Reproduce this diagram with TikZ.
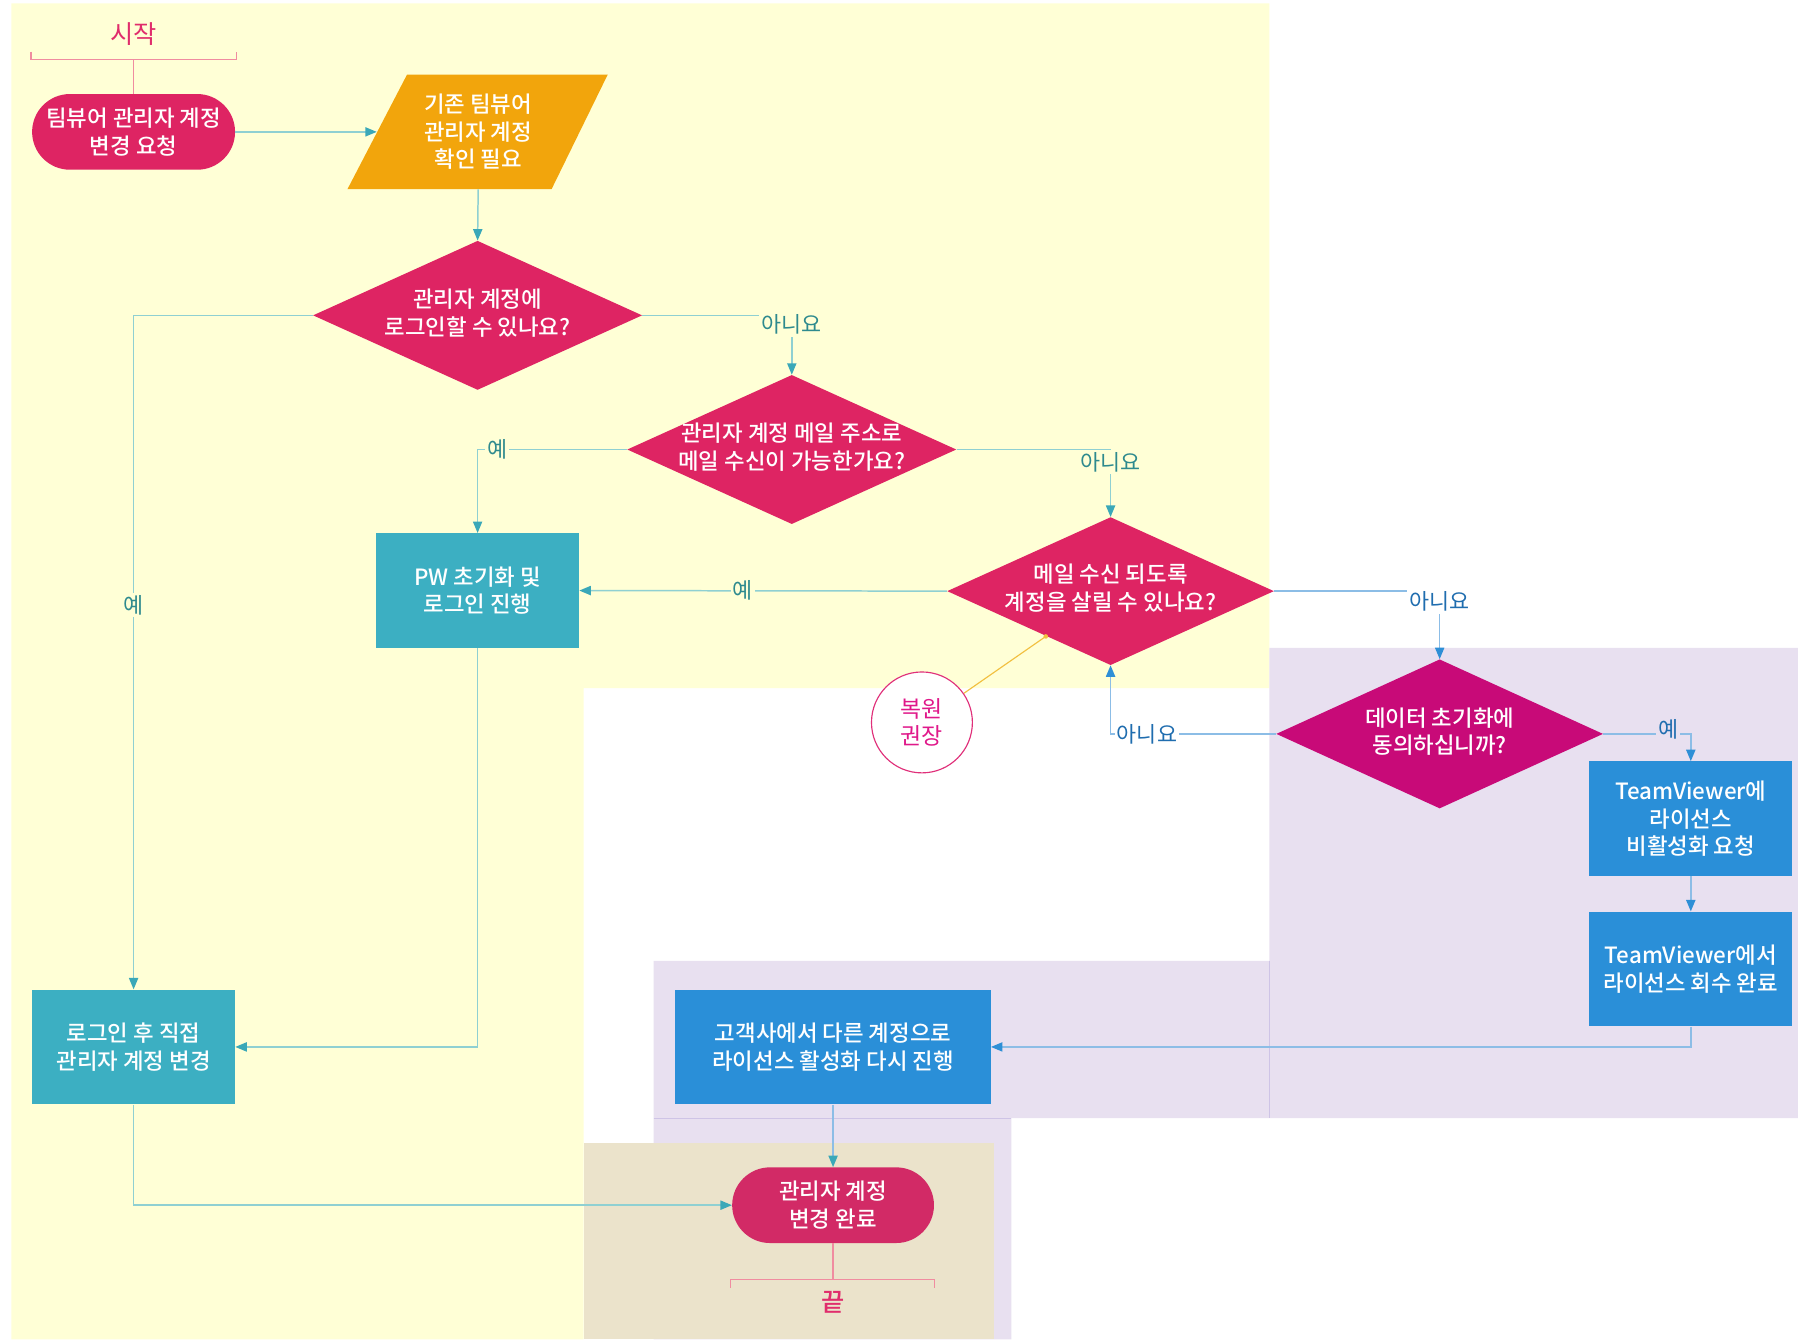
\documentclass[tikz,border=0pt]{standalone}
\usepackage{fontspec}
\setmainfont{Noto Sans CJK KR}
\newfontfamily\krmed{Noto Sans CJK KR Medium}
\usetikzlibrary{arrows.meta,shapes.geometric,calc}
\definecolor{cYellowBg}{HTML}{FFFFD6}
\definecolor{cPurpleBg}{HTML}{E8E0F0}
\definecolor{cBeigeBg}{HTML}{EBE3CB}
\definecolor{cPurpleEdge}{HTML}{CEC4E6}
\definecolor{cCrimson}{HTML}{DE2463}
\definecolor{cCrimsonEnd}{HTML}{D22A66}
\definecolor{cOrange}{HTML}{F2A50C}
\definecolor{cTealBox}{HTML}{3CAFC2}
\definecolor{cBlueBox}{HTML}{2A8FD8}
\definecolor{cMagenta}{HTML}{C80A78}
\definecolor{cTealLine}{HTML}{8FD0D2}
\definecolor{cTealArrow}{HTML}{3AA8B8}
\definecolor{cBlueLine}{HTML}{8CBDE6}
\definecolor{cBlueArrow}{HTML}{2E8FD6}
\definecolor{cTealTxt}{HTML}{2E8A8E}
\definecolor{cBlueTxt}{HTML}{1F6DAF}
\definecolor{cPinkLine}{HTML}{F08CA0}
\definecolor{cPinkTxt}{HTML}{E02D6C}
\definecolor{cRecTxt}{HTML}{E0188A}
\definecolor{cRecLine}{HTML}{E0307A}
\definecolor{cNoteLine}{HTML}{F2C040}
\newcommand\myNodeFont{\fontsize{19.5}{24}\selectfont\krmed}
\newcommand\myLabFont{\fontsize{19}{23}\selectfont}
\begin{document}
\begin{tikzpicture}[x=1pt,y=-1pt,
  nbox/.style={rectangle, minimum width=177pt, minimum height=100pt, inner sep=0pt, text=white, font=\myNodeFont, align=center},
  tealbox/.style={nbox, fill=cTealBox},
  bluebox/.style={nbox, fill=cBlueBox},
  stad/.style={rectangle, rounded corners=33pt, minimum width=177pt, minimum height=66pt, inner sep=0pt, text=white, font=\myNodeFont, align=center},
  dia/.style={diamond, inner sep=0pt, minimum width=287pt, minimum height=130pt},
  dtxt/.style={text=white, font=\myNodeFont, align=center, inner sep=0pt},
  tline/.style={draw=cTealLine, line width=1.3pt, -{Triangle[length=10pt,width=8pt,color=cTealArrow]}},
  bline/.style={draw=cBlueLine, line width=1.3pt, -{Triangle[length=10pt,width=8pt,color=cBlueArrow]}},
  lab/.style={inner sep=2pt, font=\myLabFont, text=cTealTxt, fill=cYellowBg},
  blab/.style={inner sep=2pt, font=\myLabFont, text=cBlueTxt},
  bracket/.style={draw=cPinkLine, line width=1.2pt},
]
\useasboundingbox (0,0) rectangle (1568,1168);
% lanes
\fill[white] (0,0) rectangle (1568,1168);
\fill[cYellowBg] (10,3) -- (1107,3) -- (1107,600) -- (509,600) -- (509,1168) -- (10,1168) -- cycle;
\fill[cPurpleBg] (1107,565) -- (1568,565) -- (1568,975) -- (882,975) -- (882,1168) -- (570,1168) -- (570,838) -- (1107,838) -- cycle;
\fill[cBeigeBg] (509,997) rectangle (867,1168);
\draw[cPurpleEdge, line width=0.8pt] (1107,838) -- (1107,975);
\draw[cPurpleEdge, line width=0.8pt] (570,975) -- (882,975);

% parallelogram body
\fill[cOrange] (355,65) -- (530,65) -- (481,165) -- (303,165) -- cycle;

% nodes
\node[stad, fill=cCrimson] (start) at (116.5,115) {팀뷰어 관리자 계정\\변경 요청};
\node[rectangle, minimum width=176.5pt, minimum height=100pt, inner sep=0pt, text=white, font=\myNodeFont, align=center] (para) at (417,115) {기존 팀뷰어\\관리자 계정\\확인 필요};

\node[dia, fill=cCrimson] (d1) at (416.5,275) {};
\node[dtxt] (d1t) at (416.5,273) {관리자 계정에\\로그인할 수 있나요?};
\node[dia, fill=cCrimson] (d2) at (690.5,392) {};
\node[dtxt] (d2t) at (690.5,390) {관리자 계정 메일 주소로\\메일 수신이 가능한가요?};
\node[dia, fill=cCrimson, minimum width=285pt, minimum height=129pt] (d3) at (968.5,515.5) {};
\node[dtxt] (d3t) at (968.5,513) {메일 수신 되도록\\계정을 살릴 수 있나요?};
\node[dia, fill=cMagenta, minimum width=285pt] (d4) at (1255.5,640) {};
\node[dtxt] (d4t) at (1255.5,638) {데이터 초기화에\\동의하십니까?};

\node[tealbox] (pw) at (416.5,515) {PW 초기화 및\\로그인 진행};
\node[tealbox] (login) at (116.5,913) {로그인 후 직접\\관리자 계정 변경};
\node[bluebox] (tv1) at (1474.5,714) {TeamViewer에\\라이선스\\비활성화 요청};
\node[bluebox] (tv2) at (1474.5,845) {TeamViewer에서\\라이선스 회수 완료};
\node[bluebox, minimum width=275pt] (cust) at (726.5,913) {고객사에서 다른 계정으로\\라이선스 활성화 다시 진행};
\node[stad, fill=cCrimsonEnd, minimum width=176pt] (endn) at (726.5,1051) {관리자 계정\\변경 완료};

% start / end brackets
\node[font=\fontsize{22}{24}\selectfont, text=cPinkTxt] (startlab) at (116.5,30) {시작};
\draw[bracket] (27,45) -- (27,52) -- (206,52) -- (206,45);
\coordinate (sbr) at (116.5,52);
\draw[bracket] (sbr) -- (start.north);
\coordinate (ebr) at (726.5,1116);
\draw[bracket] (endn.south) -- (ebr);
\draw[bracket] (637,1123) -- (637,1116) -- (815,1116) -- (815,1123);
\node[font=\fontsize{22}{24}\selectfont\krmed, text=cPinkTxt] (endlab) at (726.5,1136) {끝};

% connectors
\draw[tline] (start.east) -- (para.west);
\draw[tline] (para.south) -- (d1.north);
\draw[tline] (d1.west) -| node[lab, pos=0.715] {예} (login.north);
\draw[tline] (d1.east) -| node[lab, pos=0.5, yshift=-8pt] {아니요} (d2.north);
\draw[tline] (d2.west) -| node[lab, pos=0.435] {예} (pw.north);
\draw[tline] (d2.east) -| node[lab, pos=0.5, yshift=-11pt] {아니요} (d3.north);
\draw[tline] (d3.west) -- node[lab, pos=0.555] {예} (pw.east);
\draw[bline] (d3.east) -| node[blab, fill=white, pos=0.5, yshift=-9pt] {아니요} (d4.north);
\draw[bline] (d4.west) -| node[blab, fill=white, pos=0.39] {아니요} (d3.south);
\draw[bline] (d4.east) -| node[blab, fill=cPurpleBg, pos=0.37, yshift=4pt] {예} (tv1.north);
\draw[bline] (tv1.south) -- (tv2.north);
\draw[bline] (tv2.south) |- (cust.east);
\draw[tline, draw=cBlueLine] (cust.south) -- (endn.north);
\draw[tline] (pw.south) |- (login.east);
\draw[tline] (login.south) |- (endn.west);

% annotation
\node[circle, draw=cRecLine, line width=1pt, fill=white, minimum size=88pt, inner sep=0pt, align=center, font=\fontsize{20}{23}\selectfont, text=cRecTxt] (rec) at (804,630) {복원\\권장};
\coordinate (d3pt) at (912,555);
\draw[cNoteLine, line width=1pt] (rec) -- (d3pt);
\fill[cNoteLine] (d3pt) circle (2pt);
\end{tikzpicture}
\end{document}
